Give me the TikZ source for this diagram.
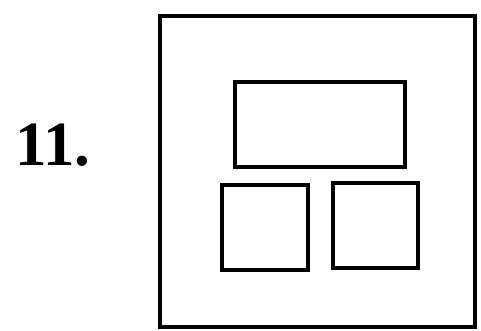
\documentclass[tikz,border=0pt]{standalone}
\usepackage{fontspec}
\setmainfont{Liberation Serif}
\usetikzlibrary{positioning}

\begin{document}
\begin{tikzpicture}[
  x=1pt, y=-1pt,
  box/.style={draw, line width=3.6pt, inner sep=0pt, outer sep=0pt,
              minimum width=#1},
  num/.style={font=\fontsize{63}{63}\selectfont\bfseries}
]
  \useasboundingbox (0,0) rectangle (481,330);

  % Number and outer frame
  \node[num] (label) at (53,145) {11.};
  \node[box=315pt, minimum height=311pt] (frame) at (317.5,171.5) {};

  % Inner boxes
  \node[box=170pt, minimum height=85pt] (wide) at (320,124.5) {};
  \node[box=86pt, minimum height=85pt] (left) at (265,227.5) {};
  \node[box=85pt, minimum height=85pt] (right) at (375.5,225.5) {};
\end{tikzpicture}
\end{document}
